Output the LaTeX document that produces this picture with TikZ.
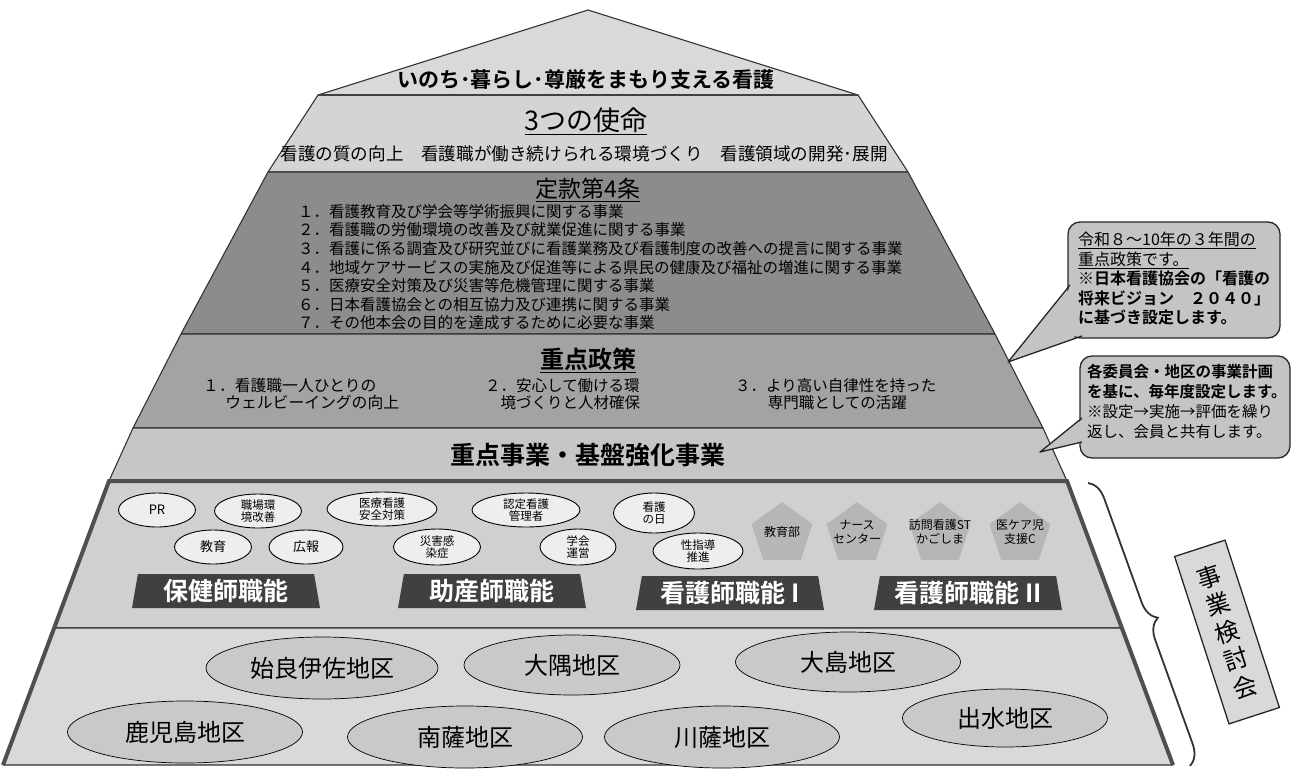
\documentclass[tikz,border=0pt]{standalone}
\usepackage{fontspec}
\setmainfont{Noto Sans CJK JP}[BoldFont={* Bold}]
\usetikzlibrary{shapes.geometric,decorations.pathreplacing}
\definecolor{roofc}{HTML}{D9D9D9}
\definecolor{missionc}{HTML}{D4D4D4}
\definecolor{articlec}{HTML}{8C8C8C}
\definecolor{policyc}{HTML}{A3A3A3}
\definecolor{projc}{HTML}{C6C6C6}
\definecolor{commc}{HTML}{D0D0D0}
\definecolor{distc}{HTML}{D9D9D9}
\definecolor{framec}{HTML}{4F4F4F}
\definecolor{ovalc}{HTML}{EEEEEE}
\definecolor{pentc}{HTML}{B6B6B6}
\definecolor{trapc}{HTML}{404040}
\definecolor{distovalc}{HTML}{C9C9C9}
\definecolor{calloutc}{HTML}{C4C4C4}
\definecolor{kentoc}{HTML}{D9D9D9}
\tikzset{
  layer/.style={draw=black!80, line width=1.1pt, line join=round},
  txt/.style={inner sep=0pt, text=black},
  smalloval/.style={ellipse, draw=black, line width=0.9pt, fill=ovalc, inner sep=0pt, align=center, font=\fontsize{11.5}{12.5}\selectfont},
  penta/.style={regular polygon, regular polygon sides=5, fill=pentc, minimum size=64pt, inner sep=0pt},
  pentatxt/.style={inner sep=0pt, align=center, font=\fontsize{12}{14}\selectfont},
  funcbox/.style={trapezium, trapezium angle=76, trapezium stretches body, fill=trapc, text=white, minimum width=188pt, minimum height=34pt, inner sep=0pt, font=\fontsize{25}{27}\selectfont\bfseries},
  district/.style={ellipse, draw=black, line width=0.7pt, fill=distovalc, inner sep=0pt, font=\fontsize{24}{26}\selectfont},
  callout/.style={draw=black!85, line width=1.3pt, fill=calloutc, rounded corners=12pt},
  calloutedge/.style={draw=black!85, line width=1.3pt, line join=round}
}
\begin{document}
\begin{tikzpicture}[x=1pt,y=-1pt]
\path[use as bounding box] (0,0) rectangle (1293,772);
% ---------- pyramid layers ----------
\filldraw[layer, fill=roofc] (318,95) -- (588,10) -- (858,95) -- cycle;
\filldraw[layer, fill=missionc] (318,95) -- (858,95) -- (908,172) -- (268,172) -- cycle;
\draw[black!75, line width=2pt] (318,95) -- (858,95);
\filldraw[layer, fill=articlec] (268,172) -- (908,172) -- (995,334) -- (181,334) -- cycle;
\filldraw[layer, fill=policyc] (181,334) -- (995,334) -- (1043,428) -- (133,428) -- cycle;
\filldraw[layer, fill=projc] (133,428) -- (1043,428) -- (1067,481) -- (109,481) -- cycle;
\filldraw[layer, fill=commc] (109,481) -- (1067,481) -- (1122,628) -- (54,628) -- cycle;
\filldraw[layer, fill=distc] (54,628) -- (1122,628) -- (1173,765) -- (3,765) -- cycle;
\draw[framec, line width=4pt, line join=miter] (3,765) -- (109,481) -- (1067,481) -- (1173,765);

% ---------- texts of the upper layers ----------
\node[txt, font=\fontsize{21}{23}\selectfont\bfseries] (roof) at (586,79) {いのち･暮らし･尊厳をまもり支える看護};
\node[txt, font=\fontsize{27}{29}\selectfont] (mission) at (586,121) {\underline{3つの使命}};
\node[txt, font=\fontsize{17.6}{20}\selectfont] (missionsub) at (584,154) {看護の質の向上　看護職が働き続けられる環境づくり　看護領域の開発･展開};
\node[txt, font=\fontsize{23}{25}\selectfont] (article) at (588,190) {\underline{定款第4条}};
\node[txt, anchor=north west, align=left, font=\fontsize{15.5}{18.6}\selectfont] (articleitems) at (298,204) {%
１．看護教育及び学会等学術振興に関する事業\\
２．看護職の労働環境の改善及び就業促進に関する事業\\
３．看護に係る調査及び研究並びに看護業務及び看護制度の改善への提言に関する事業\\
４．地域ケアサービスの実施及び促進等による県民の健康及び福祉の増進に関する事業\\
５．医療安全対策及び災害等危機管理に関する事業\\
６．日本看護協会との相互協力及び連携に関する事業\\
７．その他本会の目的を達成するために必要な事業};
\node[txt, font=\fontsize{24}{26}\selectfont\bfseries] (policy) at (588,360) {\underline{重点政策}};
\node[txt, anchor=west, align=left, font=\fontsize{15.8}{17}\selectfont] (pol1) at (203,394) {１．看護職一人ひとりの\\\hspace{1.4em}ウェルビーイングの向上};
\node[txt, anchor=west, align=left, font=\fontsize{15.5}{17}\selectfont] (pol2) at (485,394) {２．安心して働ける環\\\hspace{1em}境づくりと人材確保};
\node[txt, anchor=west, align=left, font=\fontsize{15.5}{17}\selectfont] (pol3) at (735,394) {３．より高い自律性を持った\\\hspace{2.1em}専門職としての活躍};
\node[txt, font=\fontsize{25}{27}\selectfont\bfseries] (project) at (588,455) {重点事業・基盤強化事業};

% ---------- committees ----------
\node[smalloval, minimum width=77pt, minimum height=34pt, font=\fontsize{13}{14}\selectfont] (pr) at (157,510) {PR};
\node[smalloval, minimum width=87pt, minimum height=34pt] (shokuba) at (258,511) {職場環\\境改善};
\node[smalloval, minimum width=110pt, minimum height=34pt] (iryo) at (382,509) {医療看護\\安全対策};
\node[smalloval, minimum width=108pt, minimum height=34pt] (nintei) at (526,510) {認定看護\\管理者};
\node[smalloval, minimum width=81pt, minimum height=40pt] (kangonohi) at (654,513) {看護\\の日};
\node[smalloval, minimum width=77pt, minimum height=34pt, font=\fontsize{13}{14}\selectfont] (kyoiku) at (213,547) {教育};
\node[smalloval, minimum width=74pt, minimum height=34pt, font=\fontsize{13}{14}\selectfont] (koho) at (306,547) {広報};
\node[smalloval, minimum width=87pt, minimum height=36pt] (saigai) at (437,547) {災害感\\染症};
\node[smalloval, minimum width=76pt, minimum height=36pt] (gakkai) at (578,547) {学会\\運営};
\node[smalloval, minimum width=90pt, minimum height=36pt] (seishido) at (698,551) {性指導\\推進};

\node[penta] (kyoikubu) at (782,534) {};
\node[pentatxt] (kyoikubut) at (782,532) {教育部};
\node[penta] (nurse) at (857,534) {};
\node[pentatxt] (nurset) at (857,532) {ナース\\センター};
\node[penta] (homon) at (940,534) {};
\node[pentatxt] (homont) at (940,532) {訪問看護ST\\かごしま};
\node[penta] (ikea) at (1020,534) {};
\node[pentatxt] (ikeat) at (1020,532) {医ケア児\\支援C};

\node[funcbox] (hoken) at (226,591) {保健師職能};
\node[funcbox] (josan) at (492,591) {助産師職能};
\node[funcbox] (kango1) at (730,593) {看護師職能 I};
\node[funcbox] (kango2) at (968,593) {看護師職能 II};

% ---------- districts ----------
\node[district, minimum width=232pt, minimum height=62pt] (aira) at (322,668) {始良伊佐地区};
\node[district, minimum width=216pt, minimum height=60pt] (osumi) at (572,665) {大隅地区};
\node[district, minimum width=225pt, minimum height=60pt] (oshima) at (848,662) {大島地区};
\node[district, minimum width=235pt, minimum height=62pt] (kagoshima) at (185,732) {鹿児島地区};
\node[district, minimum width=235pt, minimum height=62pt] (nansatsu) at (465,737) {南薩地区};
\node[district, minimum width=235pt, minimum height=62pt] (sensatsu) at (722,737) {川薩地区};
\node[district, minimum width=205pt, minimum height=58pt] (izumi) at (1005,718) {出水地区};

% ---------- brace and review box ----------
\coordinate (braceA) at (1088,483);
\coordinate (braceB) at (1190,766);
\draw[black!80, line width=1.8pt, decorate, decoration={brace, amplitude=20pt}] (braceA) -- (braceB);
\node[draw=black!85, line width=1.3pt, fill=kentoc, rotate=18, minimum width=53pt, minimum height=176pt, inner sep=0pt, align=center, font=\fontsize{24}{29}\selectfont] (kento) at (1227,632) {事\\業\\検\\討\\会};

% ---------- callouts ----------
\coordinate (tip1) at (1008,362);
\coordinate (b1a) at (1070,285);
\coordinate (b1b) at (1082,336);
\fill[calloutc] (b1a) -- (tip1) -- (b1b) -- cycle;
\filldraw[callout] (1068,222) rectangle (1280,338);
\fill[calloutc] (1071,287) -- (tip1) -- (1081,334) -- cycle;
\draw[calloutedge] (b1a) -- (tip1) -- (b1b);
\node[txt, anchor=north west, align=left, font=\fontsize{16}{19.5}\selectfont] (c1) at (1078,232) {%
\underline{令和８～10年の３年間の}\\
\underline{重点政策です。}\\
{\bfseries ※日本看護協会の「看護の}\\
{\bfseries 将来ビジョン　２０４０」}\\
{\bfseries に基づき設定します。}};

\coordinate (tip2) at (1040,452);
\coordinate (b2a) at (1082,418);
\coordinate (b2b) at (1082,442);
\fill[calloutc] (b2a) -- (tip2) -- (b2b) -- cycle;
\filldraw[callout] (1080,356) rectangle (1290,458);
\fill[calloutc] (1083,419) -- (tip2) -- (1083,441) -- cycle;
\draw[calloutedge] (b2a) -- (tip2) -- (b2b);
\node[txt, anchor=north west, align=left, font=\fontsize{15.5}{20}\selectfont] (c2) at (1087,364) {%
{\bfseries 各委員会・地区の事業計画}\\
{\bfseries を基に、毎年度設定します。}\\
※設定→実施→評価を繰り\\
返し、会員と共有します。};
\end{tikzpicture}
\end{document}
